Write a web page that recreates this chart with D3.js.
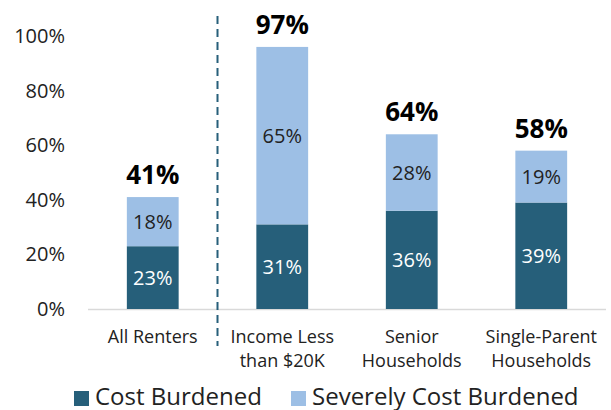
<!DOCTYPE html>
<html>
<head>
<meta charset="utf-8">
<script src="https://cdn.jsdelivr.net/npm/d3@7"></script>
<style>
  body { margin: 0; background: #fff; }
  svg text { font-family: "Open Sans", "Noto Sans", sans-serif; }
</style>
</head>
<body>
<div id="chart"></div>
<script>
// Données
const categories = [["All Renters"], ["Income Less", "than $20K"], ["Senior", "Households"], ["Single-Parent", "Households"]];
const costBurdened = [23, 31, 36, 39];
const severelyBurdened = [18, 65, 28, 19];
const totalLabels = ["41%", "97%", "64%", "58%"];
const yTicks = [0, 20, 40, 60, 80, 100];
const seriesNames = ["Cost Burdened", "Severely Cost Burdened"];

const colors = { dark: "#265f7a", light: "#9dbfe5" };

const width = 611, height = 410;

const svg = d3.select("#chart").append("svg")
    .attr("width", width)
    .attr("height", height);

const x = d3.scaleBand()
    .domain(d3.range(categories.length))
    .range([88, 606])
    .paddingInner(0.6)
    .paddingOuter(0.3);

const y = d3.scaleLinear()
    .domain([0, 100])
    .range([309, 36]);

// Axe Y (étiquettes seulement)
const yAxis = svg.append("g")
    .attr("transform", "translate(65,0)")
    .call(d3.axisLeft(y).tickValues(yTicks).tickFormat(d => d + "%").tickSize(0).tickPadding(0));
yAxis.select(".domain").remove();
yAxis.selectAll("text")
    .style("font-size", "20px")
    .style("fill", "#222")
    .style("font-family", "'Open Sans', sans-serif");

// Ligne de base
svg.append("line")
    .attr("x1", 88).attr("x2", 606)
    .attr("y1", y(0) + 0.5).attr("y2", y(0) + 0.5)
    .attr("stroke", "#d9d9d9")
    .attr("stroke-width", 1.5);

// Barres empilées
const groups = svg.selectAll(".bar")
    .data(categories.map((c, i) => ({ i, a: costBurdened[i], b: severelyBurdened[i] })))
    .join("g");

groups.append("rect")
    .attr("x", d => x(d.i))
    .attr("width", x.bandwidth())
    .attr("y", d => y(d.a))
    .attr("height", d => y(0) - y(d.a))
    .attr("fill", colors.dark);

groups.append("rect")
    .attr("x", d => x(d.i))
    .attr("width", x.bandwidth())
    .attr("y", d => y(d.a + d.b))
    .attr("height", d => y(d.a) - y(d.a + d.b))
    .attr("fill", colors.light);

groups.append("text")
    .attr("x", d => x(d.i) + x.bandwidth() / 2)
    .attr("y", d => (y(0) + y(d.a)) / 2)
    .attr("dy", "0.35em")
    .attr("text-anchor", "middle")
    .style("font-size", "20px")
    .style("fill", "#fff")
    .text(d => d.a + "%");

groups.append("text")
    .attr("x", d => x(d.i) + x.bandwidth() / 2)
    .attr("y", d => (y(d.a) + y(d.a + d.b)) / 2)
    .attr("dy", "0.35em")
    .attr("text-anchor", "middle")
    .style("font-size", "20px")
    .style("fill", "#222")
    .text(d => d.b + "%");

groups.append("text")
    .attr("x", d => x(d.i) + x.bandwidth() / 2)
    .attr("y", d => y(d.a + d.b) - 13)
    .attr("text-anchor", "middle")
    .style("font-size", "26px")
    .style("font-weight", "bold")
    .style("fill", "#000")
    .text(d => totalLabels[d.i]);

// Étiquettes des catégories
groups.each(function(d) {
    const t = d3.select(this).append("text")
        .attr("text-anchor", "middle")
        .style("font-size", "18px")
        .style("fill", "#222");
    categories[d.i].forEach((line, k) => {
        t.append("tspan")
            .attr("x", x(d.i) + x.bandwidth() / 2)
            .attr("y", 343 + k * 24)
            .text(line);
    });
});

// Ligne pointillée de séparation
const sepX = x(1) - x.step() * x.paddingInner() / 2;
svg.append("line")
    .attr("x1", sepX).attr("x2", sepX)
    .attr("y1", 16).attr("y2", 346)
    .attr("stroke", colors.dark)
    .attr("stroke-width", 2)
    .attr("stroke-dasharray", "8,5");

// Légende
const legend = svg.append("g");
const legendItems = [
    { name: seriesNames[0], color: colors.dark, x: 74 },
    { name: seriesNames[1], color: colors.light, x: 291 }
];
legendItems.forEach(item => {
    legend.append("rect")
        .attr("x", item.x).attr("y", 391)
        .attr("width", 15).attr("height", 15)
        .attr("fill", item.color);
    legend.append("text")
        .attr("x", item.x + 21).attr("y", 405)
        .style("font-size", "24px")
        .style("fill", "#222")
        .text(item.name);
});
</script>
</body>
</html>
